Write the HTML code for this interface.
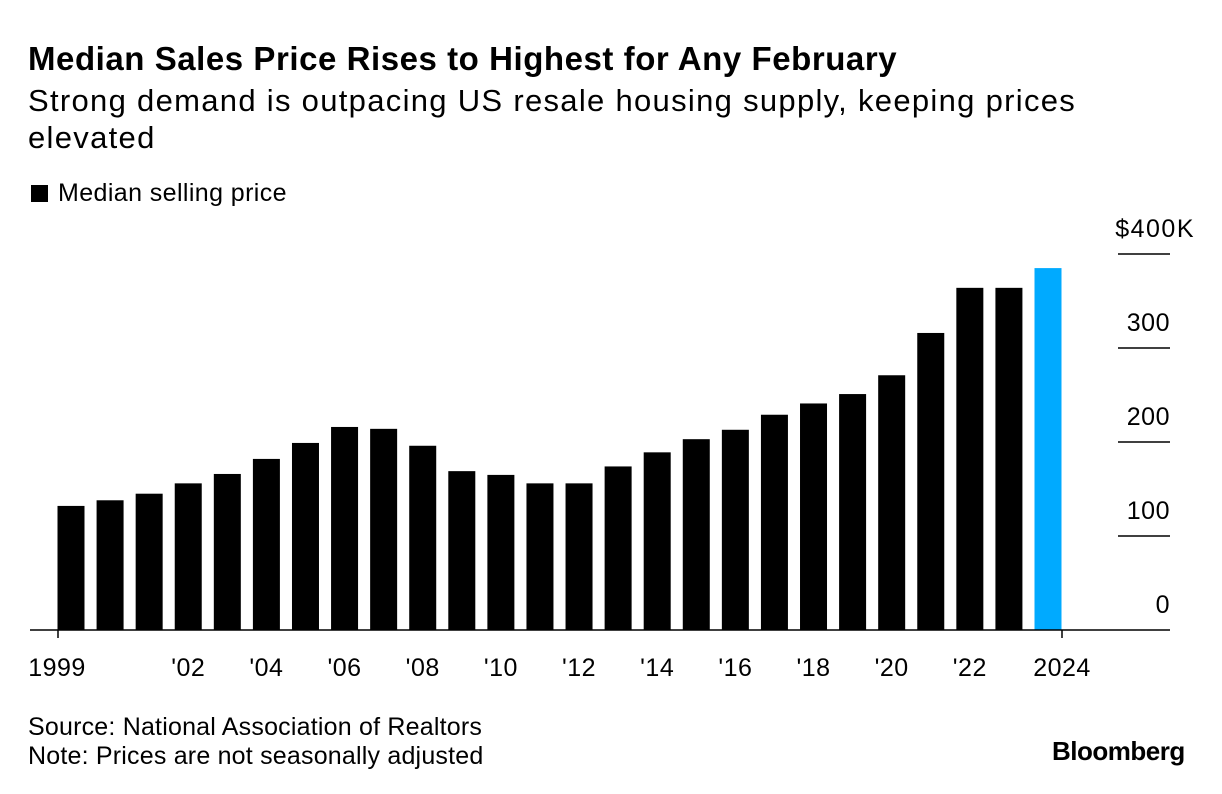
<!DOCTYPE html>
<html><head><meta charset="utf-8"><style>
body{margin:0;width:1222px;height:794px;background:#fff;font-family:"Liberation Sans",sans-serif;color:#000;position:relative;overflow:hidden}
.t{position:absolute;white-space:nowrap}
</style></head><body>
<div class="t" style="left:28px;top:40px;font-size:33px;font-weight:bold;letter-spacing:0.55px">Median Sales Price Rises to Highest for Any February</div>
<div class="t" style="left:28px;top:82px;font-size:31px;line-height:37px;letter-spacing:1.3px;white-space:normal;width:1120px">Strong demand is outpacing US resale housing supply, keeping prices elevated</div>
<div class="t" style="left:31px;top:179px;font-size:25px;letter-spacing:0.4px"><span style="display:inline-block;width:17px;height:17px;background:#000;margin-right:10px;vertical-align:-1px"></span>Median selling price</div>
<svg id="chart" width="1222" height="794" style="position:absolute;left:0;top:0"></svg>
<div class="t" style="left:28px;top:713px;font-size:25px;line-height:29px;letter-spacing:0.2px">Source: National Association of Realtors<br>Note: Prices are not seasonally adjusted</div>
<div class="t" style="left:1052px;top:736px;font-size:26px;font-weight:bold;letter-spacing:-0.5px">Bloomberg</div>
<script>
const years=[1999,2000,2001,2002,2003,2004,2005,2006,2007,2008,2009,2010,2011,2012,2013,2014,2015,2016,2017,2018,2019,2020,2021,2022,2023,2024];
const prices=[132,138,145,156,166,182,199,216,214,196,169,165,156,156,174,189,203,213,229,241,251,271,316,364,364,385];
const yTicks=[0,100,200,300,400];
const yTickLabels=["0","100","200","300","$400K"];
const xLabelYears=[1999,2002,2004,2006,2008,2010,2012,2014,2016,2018,2020,2022,2024];
const xLabels=["1999","'02","'04","'06","'08","'10","'12","'14","'16","'18","'20","'22","2024"];
const NS="http://www.w3.org/2000/svg",svg=document.getElementById('chart');
const y=v=>630-v*0.94;
const x=yr=>71+(yr-1999)*39.08;
function mk(t,a){const e=document.createElementNS(NS,t);for(const k in a)e.setAttribute(k,a[k]);svg.appendChild(e);return e;}
yTicks.forEach((v,i)=>{
 if(v>0){const l=mk('line',{x1:1118,x2:1170,y1:y(v),y2:y(v),stroke:'#000','stroke-width':1.5});
 
 }
 const t=mk('text',{x:v===400?1195:1170,y:y(v)-17,'text-anchor':'end','font-size':25,'letter-spacing':v===400?1.5:0.5,'font-family':'Liberation Sans, sans-serif'});
 t.textContent=yTickLabels[i];
 
 
});
years.forEach((yr,i)=>{
 const r=mk('rect',{x:x(yr)-13.5,y:y(prices[i]),width:27,height:630-y(prices[i]),fill:i===years.length-1?'#00aaff':'#000'});
 
 
});
const ax=mk('line',{x1:30,x2:1170,y1:630,y2:630,stroke:'#000','stroke-width':1.5});


[1999,2024].forEach(yr=>{const tk=mk('line',{x1:x(yr)-13,x2:x(yr)-13,y1:630,y2:638,stroke:'#000','stroke-width':1.5});
 if(yr===2024){tk.setAttribute('x1',x(yr)+14);tk.setAttribute('x2',x(yr)+14);}
 
 });
xLabelYears.forEach((yr,i)=>{
 let cx=x(yr); if(yr===1999)cx=57; if(yr===2024)cx=1062;
 const t=mk('text',{x:cx,y:676,'text-anchor':'middle','font-size':25,'letter-spacing':0.5,'font-family':'Liberation Sans, sans-serif'});
 t.textContent=xLabels[i];
 
 
});
</script>
</body></html>
